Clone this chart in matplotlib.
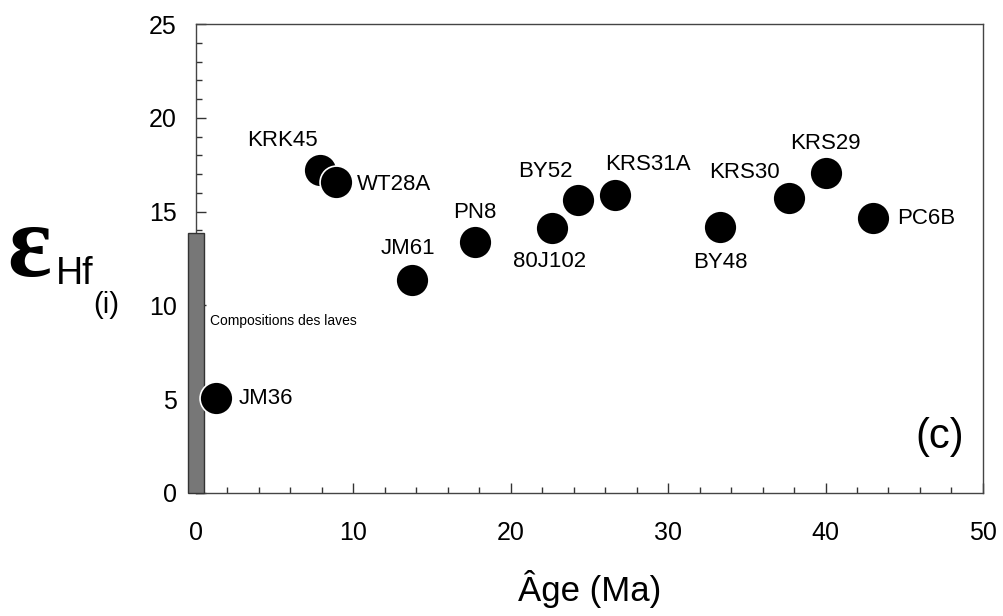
import matplotlib
matplotlib.use('Agg')
from matplotlib import pyplot as plt
from matplotlib.ticker import MultipleLocator

# sample data
samples = ['JM36', 'KRK45', 'WT28A', 'JM61', 'PN8', '80J102', 'BY52',
           'KRS31A', 'BY48', 'KRS30', 'KRS29', 'PC6B']
ages = [1.3, 7.9, 8.9, 13.7, 17.7, 22.6, 24.3, 26.6, 33.3, 37.7, 40.0, 43.0]
ehf = [5.05, 17.2, 16.6, 11.35, 13.4, 14.1, 15.6, 15.9, 14.2, 15.7, 17.05, 14.65]

# range of the lavas (grey bar at age 0)
lava_age = [0]
lava_ehf = [13.85]

# label offsets in pixels, (dx, dy, ha)
offsets = {
    'JM36': (22, 0, 'left'), 'KRK45': (-38, 30, 'center'),
    'WT28A': (21, -3, 'left'), 'JM61': (-4, 32, 'center'),
    'PN8': (0, 29, 'center'), '80J102': (-2, -33, 'center'),
    'BY52': (-33, 29, 'center'), 'KRS31A': (33, 30, 'center'),
    'BY48': (0, -36, 'center'), 'KRS30': (-45, 26, 'center'),
    'KRS29': (0, 30, 'center'), 'PC6B': (24, 0, 'left'),
}

plt.rcParams['font.family'] = ['Liberation Sans', 'DejaVu Sans']

fig = plt.figure(figsize=(10.04, 6.16), dpi=100)
ax = fig.add_axes([0.1952, 0.1997, 0.7838, 0.7613])

ax.bar(lava_age, lava_ehf, width=1.0, color='#777777', edgecolor='#333333',
       linewidth=1, clip_on=False, zorder=3)
ax.text(0.9, 9.15, 'Compositions des laves', fontsize=10, ha='left', va='center')

ax.scatter(ages, ehf, s=560, c='black', edgecolors='white', linewidths=1.2,
           zorder=5, clip_on=False)
for name, x, y in zip(samples, ages, ehf):
    dx, dy, ha = offsets[name]
    ax.annotate(name, (x, y), xytext=(dx, dy), textcoords='offset pixels',
                ha=ha, va='center', fontsize=16)

ax.text(0.945, 0.12, '(c)', transform=ax.transAxes, fontsize=30,
        ha='center', va='center')

ax.set_xlim(0, 50)
ax.set_ylim(0, 25)
ax.xaxis.set_major_locator(MultipleLocator(10))
ax.xaxis.set_minor_locator(MultipleLocator(2))
ax.yaxis.set_major_locator(MultipleLocator(5))
ax.yaxis.set_minor_locator(MultipleLocator(1))
ax.tick_params(which='both', direction='in', colors='#333333', labelcolor='black',
               labelsize=18, width=1)
ax.tick_params(which='major', length=7)
ax.tick_params(which='minor', length=4)
ax.tick_params(axis='x', pad=20)
ax.tick_params(axis='y', pad=14)
for s in ax.spines.values():
    s.set_color('#444444')
    s.set_linewidth(1)

ax.set_xlabel('Âge (Ma)', fontsize=25, labelpad=18)

# y label built from pieces: epsilon, Hf, (i)
fig.text(0.007, 0.592, 'ε', fontsize=74, family='Liberation Serif',
         fontweight='bold', ha='left', va='center')
fig.text(0.056, 0.555, 'Hf', fontsize=27, ha='left', va='center')
fig.text(0.093, 0.505, '(i)', fontsize=21, ha='left', va='center')

fig.savefig('out.png', dpi=100)
